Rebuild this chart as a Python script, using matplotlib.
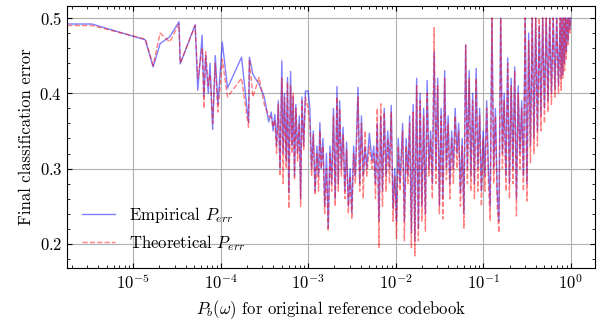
import numpy as np
import matplotlib
matplotlib.use("Agg")
import matplotlib.pyplot as plt
from matplotlib.ticker import MultipleLocator, NullFormatter

plt.rcParams.update({
    "font.family": "serif",
    "font.serif": ["cmr10"],
    "mathtext.fontset": "cm",
    "axes.formatter.use_mathtext": True,
    "axes.unicode_minus": False,
    "font.size": 12,
    "xtick.direction": "in",
    "ytick.direction": "in",
    "xtick.top": True,
    "ytick.right": True,
    "xtick.minor.visible": True,
    "ytick.minor.visible": True,
})

# log10 of P_b(omega), empirical error, theoretical error
log_pb = [-5.75, -5.47, -4.86, -4.77, -4.69, -4.58, -4.475, -4.46, -4.29, -4.26,
          -4.21, -4.19, -4.17, -4.14, -4.12, -4.09, -4.06, -4.03, -3.98, -3.92,
          -3.76, -3.68, -3.67, -3.63, -3.56, -3.50, -3.45,
          -3.42, -3.40, -3.38, -3.36, -3.34, -3.32, -3.30, -3.285, -3.27, -3.25,
          -3.235, -3.22, -3.20, -3.185, -3.17, -3.155, -3.14, -3.12, -3.10, -3.085,
          -3.07, -3.05, -3.03, -3.00, -2.98,
          -2.96, -2.94, -2.92, -2.90, -2.88, -2.865, -2.85, -2.83, -2.81, -2.79,
          -2.77, -2.75, -2.73, -2.71, -2.69, -2.67, -2.655, -2.64, -2.62, -2.60,
          -2.58, -2.56, -2.54, -2.52, -2.50, -2.48, -2.46, -2.43, -2.41, -2.39,
          -2.37, -2.35, -2.33, -2.30, -2.27, -2.25, -2.23, -2.21, -2.19, -2.17,
          -2.15, -2.13, -2.11, -2.09, -2.07, -2.05, -2.03, -2.01, -1.99,
          -1.97, -1.95, -1.92, -1.90, -1.88, -1.86, -1.84, -1.82, -1.80, -1.78,
          -1.76, -1.74, -1.72, -1.70, -1.68, -1.66, -1.64, -1.62, -1.60, -1.58,
          -1.56, -1.54, -1.52, -1.50, -1.48, -1.46, -1.44, -1.42, -1.40, -1.38,
          -1.36, -1.34, -1.32, -1.30, -1.28, -1.26, -1.24, -1.22, -1.20, -1.18,
          -1.16, -1.14, -1.12, -1.10, -1.08, -1.06, -1.04, -1.02,
          -1.00, -0.98, -0.96, -0.94, -0.92, -0.90, -0.88, -0.86, -0.84, -0.82,
          -0.80, -0.78, -0.76, -0.74, -0.72, -0.70, -0.68, -0.66, -0.64, -0.62,
          -0.60, -0.58, -0.56, -0.54, -0.52, -0.50, -0.48, -0.46, -0.44, -0.42,
          -0.40, -0.38, -0.36, -0.34, -0.32, -0.30, -0.28, -0.26, -0.24, -0.22,
          -0.20, -0.18, -0.16, -0.14, -0.12, -0.11, -0.10, -0.09, -0.08, -0.07,
          -0.06, -0.05, -0.04, -0.03, -0.02, -0.01, 0.00]

emp = [0.492, 0.492, 0.471, 0.435, 0.466, 0.475, 0.495, 0.439, 0.491, 0.404,
       0.477, 0.395, 0.450, 0.400, 0.440, 0.352, 0.450, 0.385, 0.468, 0.407,
       0.448, 0.361, 0.448, 0.425, 0.412, 0.395, 0.362,
       0.375, 0.350, 0.372, 0.330, 0.390, 0.300, 0.443, 0.320, 0.400, 0.310,
       0.421, 0.268, 0.429, 0.330, 0.395, 0.290, 0.385, 0.320, 0.370, 0.260,
       0.395, 0.330, 0.403, 0.403, 0.380,
       0.300, 0.350, 0.270, 0.330, 0.290, 0.361, 0.300, 0.340, 0.250, 0.320,
       0.221, 0.330, 0.280, 0.380, 0.260, 0.409, 0.280, 0.390, 0.300, 0.355,
       0.270, 0.335, 0.250, 0.300, 0.241, 0.330, 0.290, 0.408, 0.280, 0.370,
       0.290, 0.330, 0.300, 0.347, 0.310, 0.330, 0.280, 0.360, 0.230, 0.370,
       0.270, 0.380, 0.290, 0.350, 0.300, 0.384, 0.247, 0.300, 0.230,
       0.340, 0.280, 0.360, 0.230, 0.340, 0.290, 0.370, 0.215, 0.385, 0.204,
       0.420, 0.220, 0.400, 0.250, 0.380, 0.240, 0.417, 0.300, 0.350, 0.280,
       0.455, 0.300, 0.420, 0.251, 0.380, 0.260, 0.430, 0.300, 0.370, 0.280,
       0.350, 0.300, 0.380, 0.320, 0.360, 0.268, 0.340, 0.240, 0.464, 0.300,
       0.430, 0.290, 0.400, 0.280, 0.433, 0.300, 0.380, 0.270,
       0.350, 0.290, 0.390, 0.300, 0.250, 0.500, 0.300, 0.380, 0.270, 0.230,
       0.500, 0.320, 0.400, 0.290, 0.447, 0.280, 0.420, 0.300, 0.435, 0.260,
       0.410, 0.320, 0.390, 0.290, 0.500, 0.280, 0.480, 0.330, 0.500, 0.340,
       0.500, 0.350, 0.490, 0.370, 0.500, 0.380, 0.500, 0.390, 0.500, 0.400,
       0.500, 0.405, 0.500, 0.410, 0.500, 0.420, 0.500, 0.425, 0.500, 0.440,
       0.500, 0.455, 0.500, 0.470, 0.500, 0.485, 0.500]

theo = [0.490, 0.490, 0.472, 0.437, 0.480, 0.468, 0.492, 0.440, 0.490, 0.420,
        0.460, 0.380, 0.455, 0.410, 0.425, 0.360, 0.440, 0.375, 0.445, 0.395,
        0.420, 0.355, 0.445, 0.395, 0.421, 0.385, 0.370,
        0.368, 0.355, 0.365, 0.320, 0.385, 0.290, 0.420, 0.280, 0.395, 0.300,
        0.415, 0.247, 0.410, 0.320, 0.400, 0.285, 0.380, 0.310, 0.360, 0.250,
        0.390, 0.325, 0.395, 0.380, 0.360,
        0.290, 0.345, 0.265, 0.320, 0.270, 0.350, 0.300, 0.330, 0.240, 0.300,
        0.217, 0.320, 0.270, 0.370, 0.250, 0.395, 0.270, 0.380, 0.290, 0.345,
        0.260, 0.325, 0.240, 0.290, 0.233, 0.320, 0.280, 0.395, 0.270, 0.360,
        0.260, 0.350, 0.290, 0.330, 0.300, 0.320, 0.260, 0.380, 0.195, 0.386,
        0.250, 0.375, 0.270, 0.340, 0.280, 0.375, 0.230, 0.290, 0.207,
        0.330, 0.270, 0.350, 0.204, 0.330, 0.280, 0.360, 0.195, 0.375, 0.184,
        0.410, 0.204, 0.390, 0.230, 0.370, 0.217, 0.400, 0.290, 0.340, 0.260,
        0.487, 0.280, 0.410, 0.240, 0.370, 0.233, 0.420, 0.285, 0.360, 0.260,
        0.340, 0.280, 0.370, 0.300, 0.350, 0.250, 0.330, 0.221, 0.464, 0.280,
        0.420, 0.270, 0.390, 0.260, 0.420, 0.270, 0.370, 0.250,
        0.340, 0.270, 0.380, 0.280, 0.231, 0.500, 0.280, 0.370, 0.250, 0.215,
        0.500, 0.300, 0.390, 0.270, 0.440, 0.260, 0.410, 0.280, 0.430, 0.237,
        0.400, 0.300, 0.380, 0.270, 0.500, 0.257, 0.470, 0.308, 0.500, 0.320,
        0.500, 0.330, 0.500, 0.350, 0.500, 0.360, 0.500, 0.375, 0.500, 0.385,
        0.500, 0.395, 0.500, 0.400, 0.500, 0.404, 0.500, 0.420, 0.500, 0.430,
        0.500, 0.445, 0.500, 0.465, 0.500, 0.480, 0.500]

pb = 10.0 ** np.array(log_pb)

fig = plt.figure(figsize=(6.05, 3.2), dpi=100)
ax = fig.add_axes([0.111, 0.1625, 0.872, 0.819])

ax.plot(pb, emp, color="blue", alpha=0.5, lw=1.0, label=r"Empirical $P_{err}$")
ax.plot(pb, theo, color="red", alpha=0.5, lw=1.0, ls="--", label=r"Theoretical $P_{err}$")

ax.set_xscale("log")
ax.set_xlim(1.77e-6, 1.88)
ax.set_xticks([1e-5, 1e-4, 1e-3, 1e-2, 1e-1, 1e0])
ax.xaxis.set_minor_formatter(NullFormatter())
ax.set_ylim(0.168, 0.516)
ax.yaxis.set_major_locator(MultipleLocator(0.1))
ax.yaxis.set_minor_locator(MultipleLocator(0.02))
ax.grid(True, which="major", color="#b0b0b0", lw=0.8)
ax.set_axisbelow(True)

ax.set_xlabel(r"$P_b(\omega)$ for original reference codebook")
ax.set_ylabel("Final classification error")
ax.legend(loc="lower left", frameon=False)

fig.savefig("out.png", dpi=100)
